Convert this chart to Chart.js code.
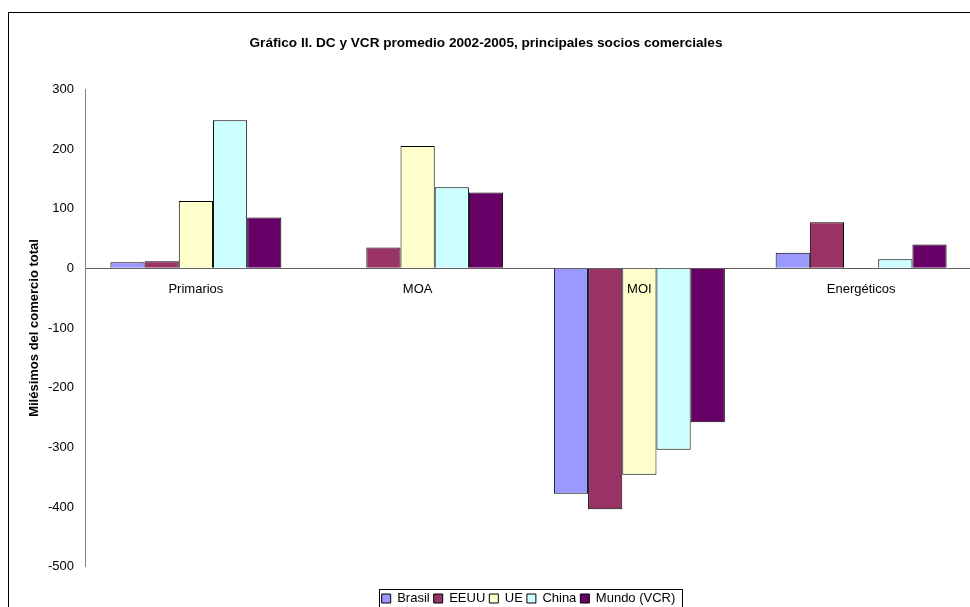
<!DOCTYPE html>
<html>
<head>
<meta charset="utf-8">
<script src="https://cdn.jsdelivr.net/npm/chart.js@4.4.0/dist/chart.umd.min.js"></script>
<style>
  html, body { margin: 0; padding: 0; background: #fff; overflow: hidden; }
  #wrap { position: absolute; left: 0; top: 0; }
</style>
</head>
<body>
<div id="wrap"><canvas id="c" width="990" height="640"></canvas></div>
<script>
const titulo = 'Gráfico II. DC y VCR promedio 2002-2005, principales socios comerciales';
const ejeY = 'Milésimos del comercio total';
const categorias = ['Primarios', 'MOA', 'MOI', 'Energéticos'];

const brasil = [10, 1, -378, 26];
const eeuu = [12, 35, -404, 77];
const ue = [113, 205, -346, -1];
const china = [248, 136, -304, 15];
const mundo = [85, 127, -258, 40];

const series = ['Brasil', 'EEUU', 'UE', 'China', 'Mundo (VCR)'];
const colores = ['#9999FF', '#993366', '#FFFFCC', '#CCFFFF', '#660066'];

(function () {
    const ctx = document.getElementById('c').getContext('2d');
    const valores = [brasil, eeuu, ue, china, mundo];

    // frame around the whole chart + box around the legend
    const marco = {
        id: 'marco',
        afterDraw(chart) {
            const g = chart.ctx;
            g.save();
            g.strokeStyle = '#000';
            g.lineWidth = 1;
            g.strokeRect(8.5, 12.5, 1000, 700);
            const hb = chart.legend.legendHitBoxes;
            if (hb && hb.length) {
                let l = Infinity, r = -Infinity, t = Infinity;
                hb.forEach(b => {
                    l = Math.min(l, b.left);
                    r = Math.max(r, b.left + b.width);
                    t = Math.min(t, b.top);
                });
                g.strokeRect(Math.round(l) - 2.5, Math.round(t) - 2.5, Math.round(r - l) + 9, 60);
            }
            g.restore();
        }
    };

    const config = {
        type: 'bar',
        data: {
            labels: categorias,
            datasets: series.map((s, i) => ({
                label: s,
                data: valores[i],
                backgroundColor: colores[i],
                borderColor: '#000',
                borderWidth: 1,
                categoryPercentage: 0.771,
                barPercentage: 1
            }))
        },
        options: {
            responsive: false,
            animation: false,
            devicePixelRatio: 1,
            layout: { padding: { left: 0, right: 18, top: 0, bottom: 25 } },
            scales: {
                x: {
                    position: { y: 0 },
                    offset: true,
                    grid: { drawOnChartArea: false, drawTicks: false },
                    border: { color: '#606060', width: 1 },
                    ticks: {
                        z: 1,
                        color: '#000',
                        padding: 13,
                        maxRotation: 0,
                        autoSkip: false,
                        font: { family: 'Liberation Sans', size: 13 }
                    }
                },
                y: {
                    min: -500,
                    max: 300,
                    afterFit: function (scale) { scale.width = 85; },
                    grid: { drawOnChartArea: false, drawTicks: false },
                    border: { color: '#808080', width: 1 },
                    ticks: {
                        stepSize: 100,
                        color: '#000',
                        padding: 11,
                        font: { family: 'Liberation Sans', size: 13 }
                    },
                    title: {
                        display: true,
                        text: ejeY,
                        color: '#000',
                        padding: { top: 27, bottom: 0 },
                        font: { family: 'Liberation Sans', size: 13, weight: 'bold' }
                    }
                }
            },
            plugins: {
                title: {
                    display: true,
                    text: titulo,
                    color: '#000',
                    padding: { top: 35, bottom: 38 },
                    font: { family: 'Liberation Sans', size: 13.6, weight: 'bold' }
                },
                legend: {
                    position: 'bottom',
                    fullSize: false,
                    title: { display: true, text: '', padding: { top: 5, bottom: 2 } },
                    labels: {
                        boxWidth: 9,
                        boxHeight: 9,
                        padding: 4,
                        color: '#000',
                        font: { family: 'Liberation Sans', size: 13 }
                    }
                },
                tooltip: { enabled: false }
            }
        },
        plugins: [marco]
    };

    new Chart(ctx, config);
})();
</script>
</body>
</html>
